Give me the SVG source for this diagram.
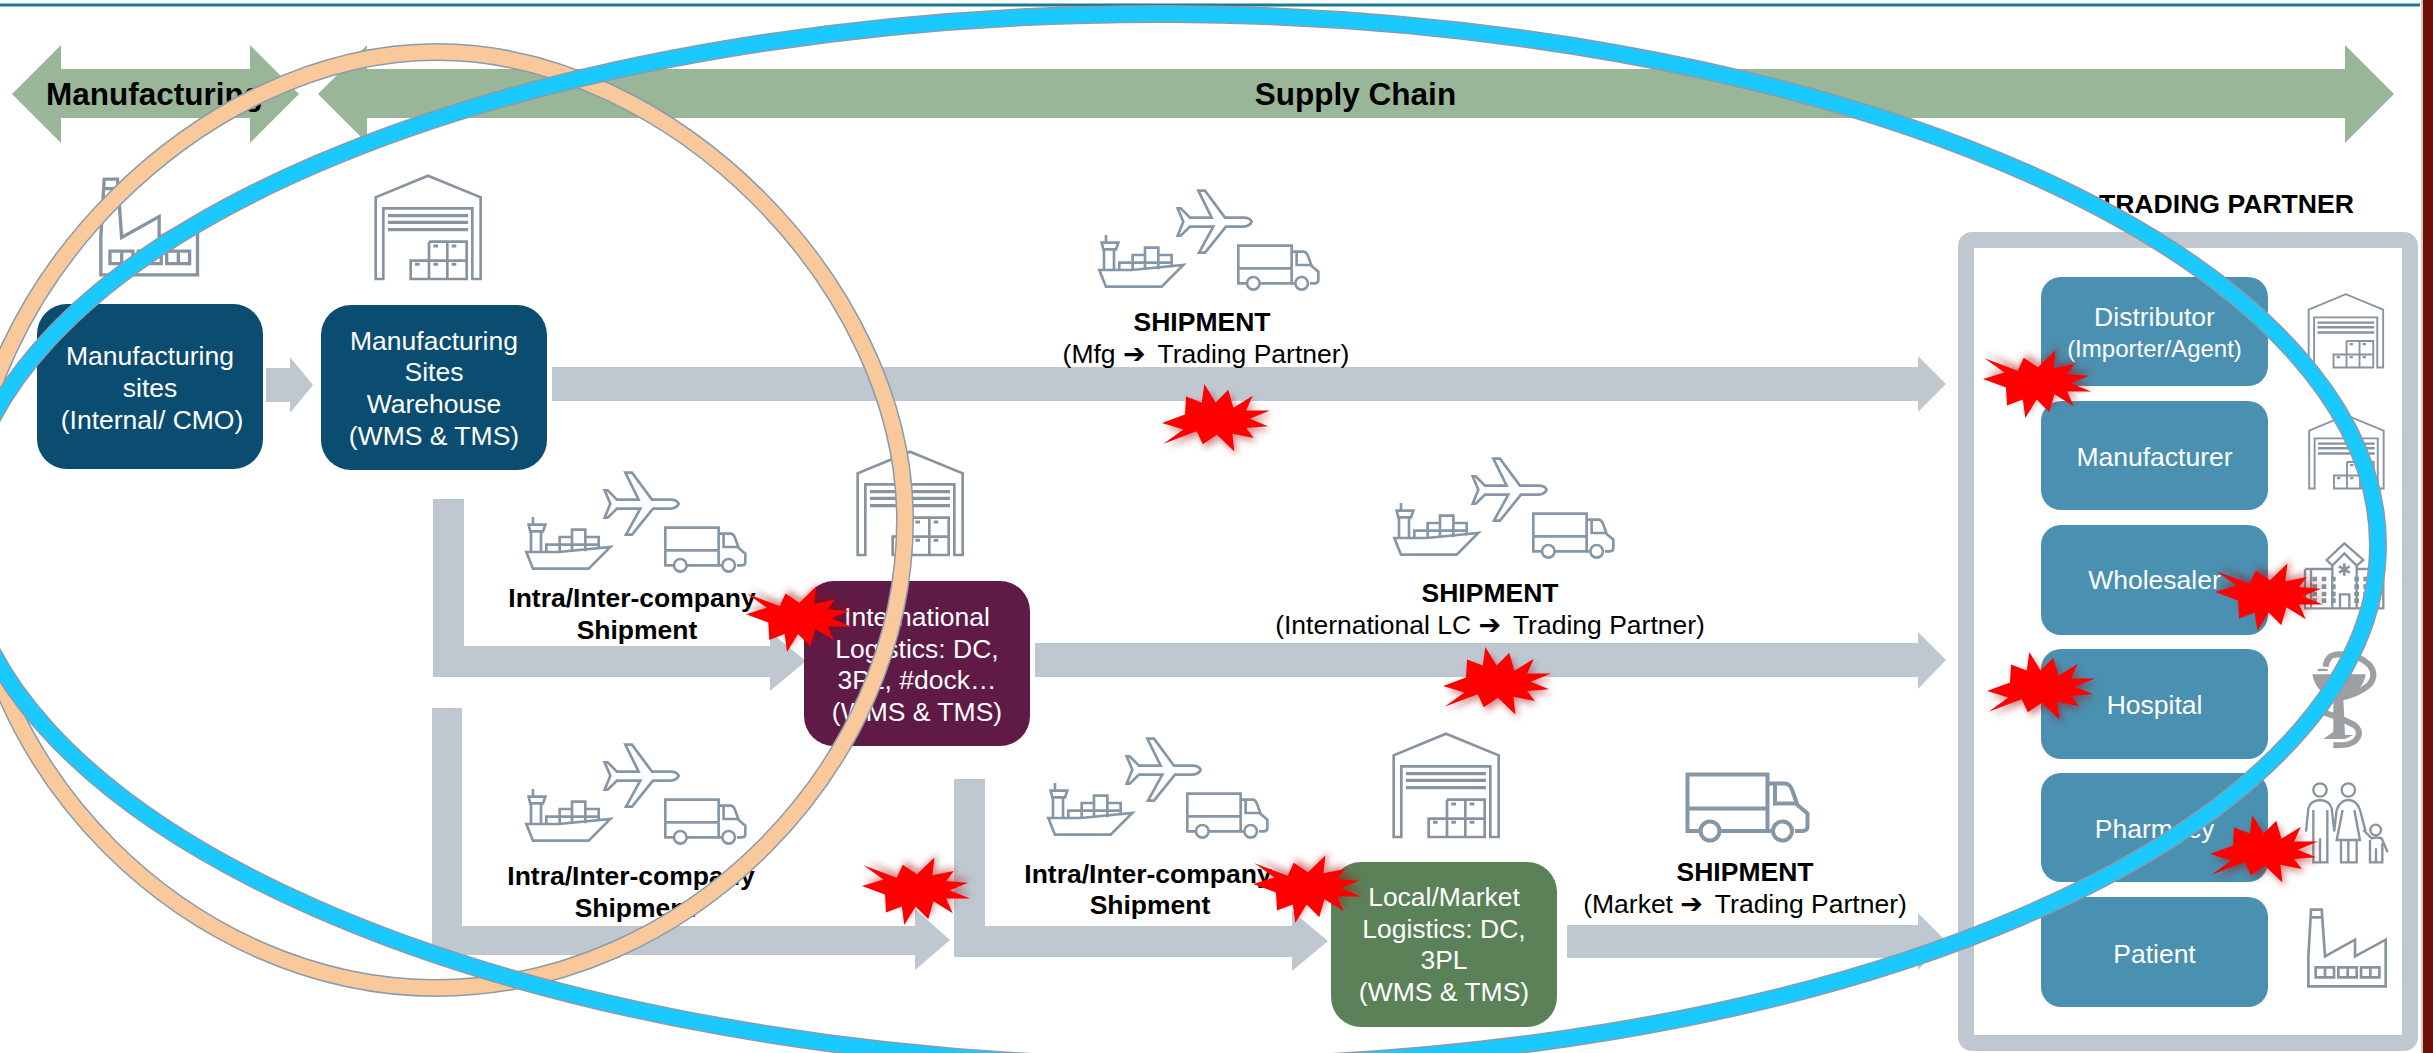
<svg xmlns="http://www.w3.org/2000/svg" xmlns:xlink="http://www.w3.org/1999/xlink" width="2433" height="1053" viewBox="0 0 2433 1053">
<style>
text{font-family:"Liberation Sans",Arial,sans-serif}
.w{fill:#fff;font-size:26.5px;text-anchor:middle}
.b{fill:#000;font-size:26.5px;font-weight:bold;text-anchor:middle}
.r{fill:#000;font-size:26.5px;text-anchor:middle}
.h{fill:#000;font-size:31.5px;font-weight:bold;text-anchor:middle}
.ar{font-family:"DejaVu Sans",sans-serif;font-weight:bold;font-size:27px;letter-spacing:5px}
.green{fill:#99b798}
.grey{fill:#bfc8d1}
.navy{fill:#0a4d70}
.tp{fill:#4a90b0}
.tr{fill:none;stroke:#8597a6;stroke-width:8;stroke-linejoin:miter}
.ic{fill:none;stroke:#87949f;stroke-width:8}
.star{fill:#f00;filter:url(#sh)}
</style>
<defs>
<filter id="sh" x="-20%" y="-20%" width="150%" height="160%"><feDropShadow dx="3" dy="4" stdDeviation="3.5" flood-color="#a00000" flood-opacity="0.45"/></filter>
<polygon id="burst" points="42.3,0 53.6,18.6 66.3,5.7 71.4,23.7 90.8,11.8 84.2,26.4 108,26.4 87.8,34.8 106,42.3 84.2,44 91.8,54 70.4,49.7 72.4,67.6 55,50.7 40.8,60.2 34.7,47.3 1.5,59.8 21.4,45.6 0,38.9 23,30.4 24,12.5 39.8,18.6"/>
<g id="ship">
<path d="M28,270 L125,270 L280,255 L215,320 L48,320 Z"/>
<path d="M42,268 V208 H72 V268 M35,188 H85 L78,208 H40 Z M48,165 V188"/>
<path d="M88,268 V248 H128 V225 H165 V203 H205 V225 H245 V262 M128,248 H245 M128,225 V268 M165,225 V268 M205,225 V268"/>
</g>
<path id="plane" d="M485,125 Q480,113 460,113 L405,113 L345,32 L325,32 L365,113 L300,113 L272,85 L263,85 L280,125 L263,167 L272,167 L300,140 L370,140 L327,218 L345,218 L408,140 L460,140 Q480,138 485,125Z"/>
<g id="truck">
<path d="M470,310 H445 V197 H605 V310 H510 M445,265 H605"/>
<path d="M605,215 H640 Q650,215 655,230 L665,258 L685,275 V300 Q685,310 675,310 H660 M620,215 V255 H665 M605,310 H612"/>
<circle cx="490" cy="310" r="19"/><circle cx="635" cy="310" r="19"/>
</g>
<g id="transport" transform="translate(-8,-9) scale(.3333)">
<use href="#ship"/><use href="#plane"/><use href="#truck"/>
</g>
<g id="warehouse" transform="translate(-40,-25)">
<path d="M45,340 V95 L202,30 L360,95 V340 H335 V128 H68 V340 Z"/>
<path d="M82,150 H322 M82,170 H322 M82,192 H322" stroke-width="10"/>
<path d="M205,228 H318 V340 H150 V285 H318 M205,285 V228 M205,285 V340 M260,228 V340"/>
<path d="M218,241 H232 M273,241 H287 M163,296 H177 M218,296 H232 M273,296 H287" stroke-width="9"/>
</g>
<g id="factory" transform="translate(-38,-400)">
<path d="M40,635 V545 L48,405 H80 L90,545 L180,495 V545 L272,495 V635 Z M48,428 H82"/>
<path d="M62,578 H117 V608 H62 Z M90,578 V608 M130,578 H185 V608 H130 Z M158,578 V608 M198,578 H253 V608 H198 Z M226,578 V608"/>
</g>
</defs>

<rect x="0" y="3.5" width="2420" height="3" fill="#1b7a8f"/>
<rect x="2421" y="0" width="2" height="1053" fill="#d9c5c2"/>
<rect x="2423" y="0" width="10" height="1053" fill="#6b0f08"/>

<g id="connectors">
<polygon class="grey" points="266,368 290,368 290,357 313,385 290,413 290,402 266,402"/>
<polygon class="grey" points="552,367 1918,367 1918,356 1946,384 1918,412 1918,401 552,401"/>
<polygon class="grey" points="433,499 464,499 464,646 770,646 770,632 806,661 770,691 770,677 433,677"/>
<polygon class="grey" points="432,708 462,708 462,926 915,926 915,909 950,940 915,970 915,955 432,955"/>
<polygon class="grey" points="954,779 985,779 985,926 1292,926 1292,911 1328,941 1292,971 1292,957 954,957"/>
<polygon class="grey" points="1035,643 1918,643 1918,632 1946,660 1918,689 1918,677 1035,677"/>
<polygon class="grey" points="1567,925 1918,925 1918,913 1946,941 1918,970 1918,958 1567,958"/>
</g>

<g id="band-manufacturing">
<polygon class="green" points="12,94 61,45 61,69 250,69 250,45 299,94 250,143 250,118 61,118 61,143"/>
<text class="h" x="154.5" y="105">Manufacturing</text>
</g>
<g id="band-supply-chain">
<polygon class="green" points="318,94 367,45 367,69 2345,69 2345,45 2394,94 2345,143 2345,118 367,118 367,143"/>
<text class="h" x="1355.5" y="105">Supply Chain</text>
</g>

<g id="node-mfg-sites">
<use href="#factory" class="ic" transform="translate(100,177) scale(.4167)"/>
<rect class="navy" x="37" y="304" width="226" height="165" rx="30"/>
<text class="w" x="150" y="365">Manufacturing</text>
<text class="w" x="150" y="397">sites</text>
<text class="w" x="152" y="429">(Internal/ CMO)</text>
</g>
<g id="node-mfg-warehouse">
<use href="#warehouse" class="ic" transform="translate(374,174) scale(.3333)"/>
<rect class="navy" x="321" y="305" width="226" height="165" rx="30"/>
<text class="w" x="434" y="350">Manufacturing</text>
<text class="w" x="434" y="381">Sites</text>
<text class="w" x="434" y="413">Warehouse</text>
<text class="w" x="434" y="445">(WMS &amp; TMS)</text>
</g>
<g id="node-international">
<use href="#warehouse" class="ic" transform="translate(856,450) scale(.3333)"/>
<rect x="804" y="581" width="226" height="165" rx="30" fill="#5f1a45"/>
<text class="w" x="917" y="626">International</text>
<text class="w" x="917" y="658">Logistics: DC,</text>
<text class="w" x="917" y="689">3PL, #dock…</text>
<text class="w" x="917" y="721">(WMS &amp; TMS)</text>
</g>
<g id="node-local">
<use href="#warehouse" class="ic" transform="translate(1392,732) scale(.3333)"/>
<rect x="1331" y="862" width="226" height="165" rx="30" fill="#5b8158"/>
<text class="w" x="1444" y="906">Local/Market</text>
<text class="w" x="1444" y="938">Logistics: DC,</text>
<text class="w" x="1444" y="969">3PL</text>
<text class="w" x="1444" y="1001">(WMS &amp; TMS)</text>
</g>

<g id="label-shipment-mfg">
<use href="#transport" class="tr" transform="translate(1098,189)"/>
<text class="b" x="1202" y="331">SHIPMENT</text>
<text class="r" x="1206" y="363">(Mfg <tspan class="ar">➔</tspan> Trading Partner)</text>
</g>
<g id="label-shipment-intl">
<use href="#transport" class="tr" transform="translate(1393,457)"/>
<text class="b" x="1490" y="602">SHIPMENT</text>
<text class="r" x="1490" y="634">(International LC <tspan class="ar">➔</tspan> Trading Partner)</text>
</g>
<g id="label-shipment-market">
<use href="#truck" class="tr" transform="translate(1465,676) scale(.5)"/>
<text class="b" x="1745" y="881">SHIPMENT</text>
<text class="r" x="1745" y="913">(Market <tspan class="ar">➔</tspan> Trading Partner)</text>
</g>
<g id="label-intra-1">
<use href="#transport" class="tr" transform="translate(525,471)"/>
<text class="b" x="632" y="607">Intra/Inter-company</text>
<text class="b" x="637" y="639">Shipment</text>
</g>
<g id="label-intra-2">
<use href="#transport" class="tr" transform="translate(525,743)"/>
<text class="b" x="631" y="885">Intra/Inter-company</text>
<text class="b" x="635" y="917">Shipment</text>
</g>
<g id="label-intra-3">
<use href="#transport" class="tr" transform="translate(1047,737)"/>
<text class="b" x="1148" y="883">Intra/Inter-company</text>
<text class="b" x="1150" y="914">Shipment</text>
</g>

<g id="trading-partner">
<text x="2354" y="212.5" style="font-size:26.6px;font-weight:bold;text-anchor:end">TRADING PARTNER</text>
<rect x="1966" y="240" width="444" height="803" rx="6" fill="none" stroke="#bfc8d1" stroke-width="16"/>
</g>
<g id="node-distributor">
<rect class="tp" x="2041" y="277" width="227" height="109" rx="20"/>
<text class="w" x="2154.5" y="326">Distributor</text>
<text class="w" x="2154.5" y="357" style="font-size:24px">(Importer/Agent)</text>
<use href="#warehouse" class="ic" transform="translate(2307.5,293) scale(.2365)"/>
</g>
<g id="node-manufacturer">
<rect class="tp" x="2041" y="401" width="227" height="109" rx="20"/>
<text class="w" x="2154.5" y="466">Manufacturer</text>
<use href="#warehouse" class="ic" transform="translate(2308,414) scale(.2365)"/>
</g>
<g id="node-wholesaler">
<rect class="tp" x="2041" y="525" width="227" height="110" rx="20"/>
<text class="w" x="2154.5" y="589">Wholesaler</text>
<g transform="translate(2295,535) scale(.3333)" fill="none" stroke="#87949f" stroke-width="7">
<path d="M30,102 H112 M185,102 H265 V220 H30 V102 M48,102 V220 M250,102 V220 M112,92 V220 M185,92 V220"/>
<path d="M95,75 L148,25 L205,75 L185,92 L148,55 L112,92 Z"/>
<path d="M135,220 V178 H163 V220"/>
<path d="M148,85 V122 M132,94 L164,113 M164,94 L132,113" stroke-width="8"/>
<path d="M52,125 h14 v14 h-14z M80,125 h14 v14 h-14z M52,148 h14 v14 h-14z M80,148 h14 v14 h-14z M52,170 h14 v14 h-14z M80,170 h14 v14 h-14z M52,190 h14 v14 h-14z M80,190 h14 v14 h-14z M178,125 h14 v14 h-14z M205,125 h14 v14 h-14z M232,125 h14 v14 h-14z M178,148 h14 v14 h-14z M205,148 h14 v14 h-14z M232,148 h14 v14 h-14z M178,170 h14 v14 h-14z M205,170 h14 v14 h-14z M232,170 h14 v14 h-14z M178,190 h14 v14 h-14z M205,190 h14 v14 h-14z M232,190 h14 v14 h-14z" fill="#87949f" stroke="none"/>
<path d="M108,125 h14 v14 h-14z M108,148 h14 v14 h-14z M108,170 h14 v14 h-14z M108,190 h14 v14 h-14z" fill="#87949f" stroke="none"/>
</g>
</g>
<g id="node-hospital">
<rect class="tp" x="2041" y="649" width="227" height="110" rx="20"/>
<text class="w" x="2154.5" y="714">Hospital</text>
<g transform="translate(2295,535) scale(.3333)">
<path d="M52,418 H212 Q205,470 145,490 L150,600 H175 L150,612 H85 L115,590 V490 Q60,470 52,418Z" fill="#9da0a3"/>
<path d="M92,395 Q95,358 135,358 Q190,358 222,388 Q248,420 222,450 Q190,478 130,490 M80,530 Q140,550 178,570 Q205,592 180,618 Q160,634 115,630" fill="none" stroke="#9da0a3" stroke-width="18"/>
<path d="M68,405 H98" stroke="#9da0a3" stroke-width="7"/>
<circle cx="116" cy="375" r="6" fill="#fff"/>
</g>
</g>
<g id="node-pharmacy">
<rect class="tp" x="2041" y="773" width="227" height="109" rx="20"/>
<text class="w" x="2154.5" y="838">Pharmacy</text>
<g transform="translate(2295,775) scale(.3333)" fill="none" stroke="#87949f" stroke-width="7">
<circle cx="75" cy="45" r="20"/><circle cx="160" cy="45" r="20"/><circle cx="242" cy="165" r="16"/>
<path d="M33,170 L40,100 Q45,78 75,75 Q105,78 110,100 L118,170 M55,105 V262 H97 V105 M75,190 V262"/>
<path d="M118,165 L125,105 Q135,75 160,75 Q185,75 195,105 L212,170 M143,105 L125,195 H195 L178,105 M138,195 V262 H185 V195 M160,195 V262"/>
<path d="M205,165 L230,190 Q245,185 260,190 L278,232 M225,195 V262 H262 V205 M243,220 V262"/>
</g>
</g>
<g id="node-patient">
<rect class="tp" x="2041" y="897" width="227" height="110" rx="20"/>
<text class="w" x="2154.5" y="963">Patient</text>
<use href="#factory" class="ic" transform="translate(2307.7,908) scale(.3333)"/>
</g>

<g id="bursts">
<use href="#burst" class="star" transform="translate(1162,384)"/>
<use href="#burst" class="star" transform="translate(746,652) scale(.97,-.97)"/>
<use href="#burst" class="star" transform="translate(1443,647)"/>
<use href="#burst" class="star" transform="translate(862,925) scale(1,-1)"/>
<use href="#burst" class="star" transform="translate(1253,923) scale(1,-1)"/>
<use href="#burst" class="star" transform="translate(1983,418) scale(1,-1)"/>
<use href="#burst" class="star" transform="translate(2215,631) scale(1,-1)"/>
<use href="#burst" class="star" transform="translate(1987,652)"/>
<use href="#burst" class="star" transform="translate(2210,815)"/>
</g>

<g id="ellipses" fill="none">
<path d="M437,52 C671,52 905,286 905,520 C905,768 685,988 437,988 C189,988 -31,768 -31,520 C-31,286 203,52 437,52 Z" stroke="#8a9bab" stroke-width="18"/>
<path d="M437,52 C671,52 905,286 905,520 C905,768 685,988 437,988 C189,988 -31,768 -31,520 C-31,286 203,52 437,52 Z" stroke="#f9c89b" stroke-width="15"/>
<g transform="rotate(.3 1170 540)">
<ellipse cx="1170" cy="540" rx="1208" ry="526" stroke="#8a9bab" stroke-width="18"/>
<ellipse cx="1170" cy="540" rx="1208" ry="526" stroke="#1ac9ff" stroke-width="15"/>
</g>
</g>
</svg>
